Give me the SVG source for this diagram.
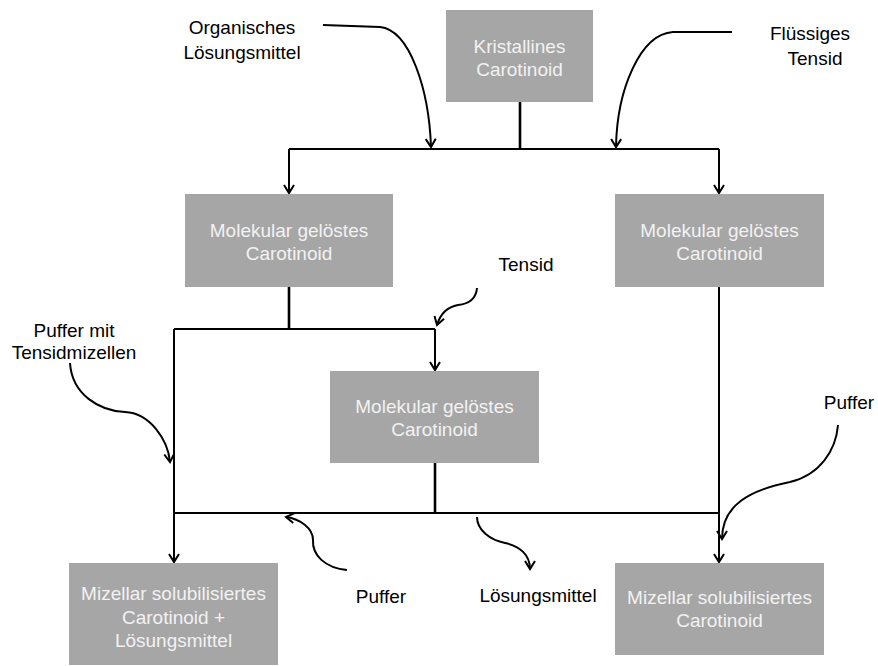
<svg xmlns="http://www.w3.org/2000/svg" width="878" height="666" viewBox="0 0 878 666">
  <style>
    .box { fill: #a6a6a6; }
    .btxt { font-family: "Liberation Sans", Arial, sans-serif; font-size: 19px; fill: #f2f2f2; text-anchor: middle; }
    .lbl { font-family: "Liberation Sans", Arial, sans-serif; font-size: 19px; fill: #000; text-anchor: middle; }
    .ln { fill: none; stroke: #000; stroke-width: 2; }
    .thick { stroke-width: 2.6; }
    .arr { marker-end: url(#vhead); }
  </style>
  <defs>
    <marker id="vhead" markerUnits="userSpaceOnUse" markerWidth="14" markerHeight="14" viewBox="-10 -7 12 14" refX="0" refY="0" orient="auto">
      <path d="M-8,-5 L0,0 L-8,5" fill="none" stroke="#000" stroke-width="2"/>
    </marker>
  </defs>
  <rect width="878" height="666" fill="#fff"/>

  <g id="connectors">
    <!-- trunk from crystalline carotinoid -->
    <path class="ln thick" d="M520,102 V149"/>
    <path class="ln" d="M289,149 H719"/>
    <path class="ln arr" d="M289,149 V193"/>
    <path class="ln arr" d="M719,149 V193"/>
    <!-- split below left dissolved node -->
    <path class="ln thick" d="M289,287 V329"/>
    <path class="ln" d="M174,329 H435"/>
    <path class="ln arr" d="M435,329 V370"/>
    <path class="ln arr" d="M174,329 V562"/>
    <!-- merge below middle node -->
    <path class="ln thick" d="M435,463 V513"/>
    <path class="ln" d="M174,513 H719"/>
    <path class="ln arr" d="M719,287 V562"/>
    <!-- curved feed arrows -->
    <path class="ln arr" d="M323,25 L380,27 C410,30 429,90 431,147"/>
    <path class="ln arr" d="M732,32 L673,32 C640,34 617,90 616,147"/>
    <path class="ln arr" d="M477,288 C476,300 468,304 458,305 C447,307 440,315 437,325"/>
    <path class="ln arr" d="M70,363 C72,395 100,411 125,412 C150,413 168,440 170,462"/>
    <path class="ln arr" d="M838,425 C836,450 820,475 790,482 C750,490 722,505 722,539"/>
    <path class="ln arr" d="M347,570 C325,568 312,555 313,540 C313,528 300,519 286,517"/>
    <path class="ln arr" d="M477,517 C477,530 490,540 505,543 C520,546 530,555 530,569"/>
  </g>

  <g id="kristallin">
    <rect class="box" x="446" y="10" width="147" height="92"/>
    <text class="btxt" x="519.5" y="53">Kristallines</text>
    <text class="btxt" x="519.5" y="76">Carotinoid</text>
  </g>
  <g id="geloest-links">
    <rect class="box" x="185" y="194" width="208" height="93"/>
    <text class="btxt" x="289" y="237">Molekular gelöstes</text>
    <text class="btxt" x="289" y="260">Carotinoid</text>
  </g>
  <g id="geloest-rechts">
    <rect class="box" x="615" y="194" width="209" height="93"/>
    <text class="btxt" x="719.5" y="237">Molekular gelöstes</text>
    <text class="btxt" x="719.5" y="260">Carotinoid</text>
  </g>
  <g id="geloest-mitte">
    <rect class="box" x="330" y="371" width="209" height="92"/>
    <text class="btxt" x="434.5" y="413">Molekular gelöstes</text>
    <text class="btxt" x="434.5" y="436">Carotinoid</text>
  </g>
  <g id="mizellar-links">
    <rect class="box" x="69" y="563" width="209" height="102"/>
    <text class="btxt" x="173.5" y="600">Mizellar solubilisiertes</text>
    <text class="btxt" x="173.5" y="624">Carotinoid +</text>
    <text class="btxt" x="173.5" y="647">Lösungsmittel</text>
  </g>
  <g id="mizellar-rechts">
    <rect class="box" x="615" y="563" width="209" height="92"/>
    <text class="btxt" x="719.5" y="604">Mizellar solubilisiertes</text>
    <text class="btxt" x="719.5" y="627">Carotinoid</text>
  </g>

  <g id="labels">
    <text class="lbl" x="242" y="34">Organisches</text>
    <text class="lbl" x="242" y="59">Lösungsmittel</text>
    <text class="lbl" x="810" y="40">Flüssiges</text>
    <text class="lbl" x="815" y="65">Tensid</text>
    <text class="lbl" x="526" y="271">Tensid</text>
    <text class="lbl" x="74" y="337">Puffer mit</text>
    <text class="lbl" x="74" y="359">Tensidmizellen</text>
    <text class="lbl" x="849" y="409">Puffer</text>
    <text class="lbl" x="381" y="603">Puffer</text>
    <text class="lbl" x="538" y="602">Lösungsmittel</text>
  </g>
</svg>
